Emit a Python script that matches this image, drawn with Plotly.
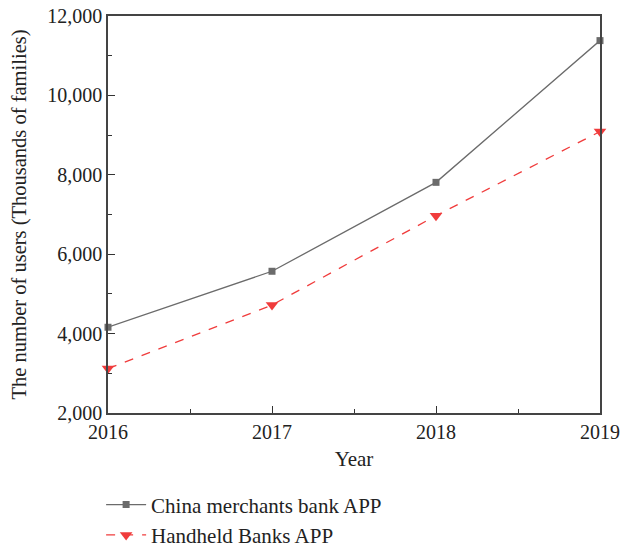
import plotly.graph_objects as go

years = [2016, 2017, 2018, 2019]
cmb_users = [4160, 5570, 7810, 11380]
handheld_users = [3120, 4720, 6970, 9090]
y_ticks = [2000, 4000, 6000, 8000, 10000, 12000]

FONT = "Liberation Serif"

fig = go.Figure()
fig.add_trace(go.Scatter(
    x=years, y=cmb_users, mode="lines+markers", name="China merchants bank APP",
    line=dict(color="#6b6b6b", width=1.3),
    marker=dict(symbol="square", size=7, color="#6b6b6b"),
    cliponaxis=False,
))
fig.add_trace(go.Scatter(
    x=years, y=handheld_users, mode="lines+markers", name="Handheld Banks APP",
    line=dict(color="#f03c3c", width=1.3, dash="dash"),
    marker=dict(symbol="triangle-down", size=11, color="#f03c3c"),
    cliponaxis=False,
))

fig.update_layout(
    width=620, height=548,
    margin=dict(l=108, r=20, t=16, b=135, autoexpand=False),
    paper_bgcolor="white", plot_bgcolor="white",
    font=dict(family=FONT, size=20, color="#222"),
    showlegend=True,
    legend=dict(x=-0.014, y=-0.18, xanchor="left", yanchor="top",
                itemwidth=40,
                font=dict(family=FONT, size=21, color="#222"),
                bgcolor="rgba(0,0,0,0)", tracegroupgap=0),
    xaxis=dict(
        range=[2016, 2019], tickvals=years, ticktext=[str(y) for y in years],
        ticks="inside", ticklen=7, tickcolor="#333", showgrid=False, zeroline=False,
        showline=True, linecolor="#444", linewidth=1.5, mirror=True, automargin=False,
        ticklabeloverflow="allow",
        minor=dict(ticks="inside", dtick=0.5, tick0=2016, ticklen=4, tickcolor="#333", showgrid=False),
        title=dict(text="Year", font=dict(family=FONT, size=21), standoff=10),
        tickfont=dict(family=FONT, size=20),
    ),
    yaxis=dict(
        range=[2000, 12000], tickvals=y_ticks, tickformat=",d",
        ticks="inside", ticklen=7, tickcolor="#333", showgrid=False, zeroline=False,
        showline=True, linecolor="#444", linewidth=1.5, mirror=True, automargin=False,
        ticklabeloverflow="allow",
        minor=dict(ticks="inside", dtick=1000, ticklen=4, tickcolor="#333", showgrid=False),
        title=dict(text="The number of users (Thousands of families)", font=dict(family=FONT, size=20.5), standoff=15),
        tickfont=dict(family=FONT, size=20),
    ),
)

fig.write_html(
    "out.html",
    config={"displayModeBar": False},
    post_script="document.body.style.margin='0px';document.documentElement.style.overflow='hidden';",
)
